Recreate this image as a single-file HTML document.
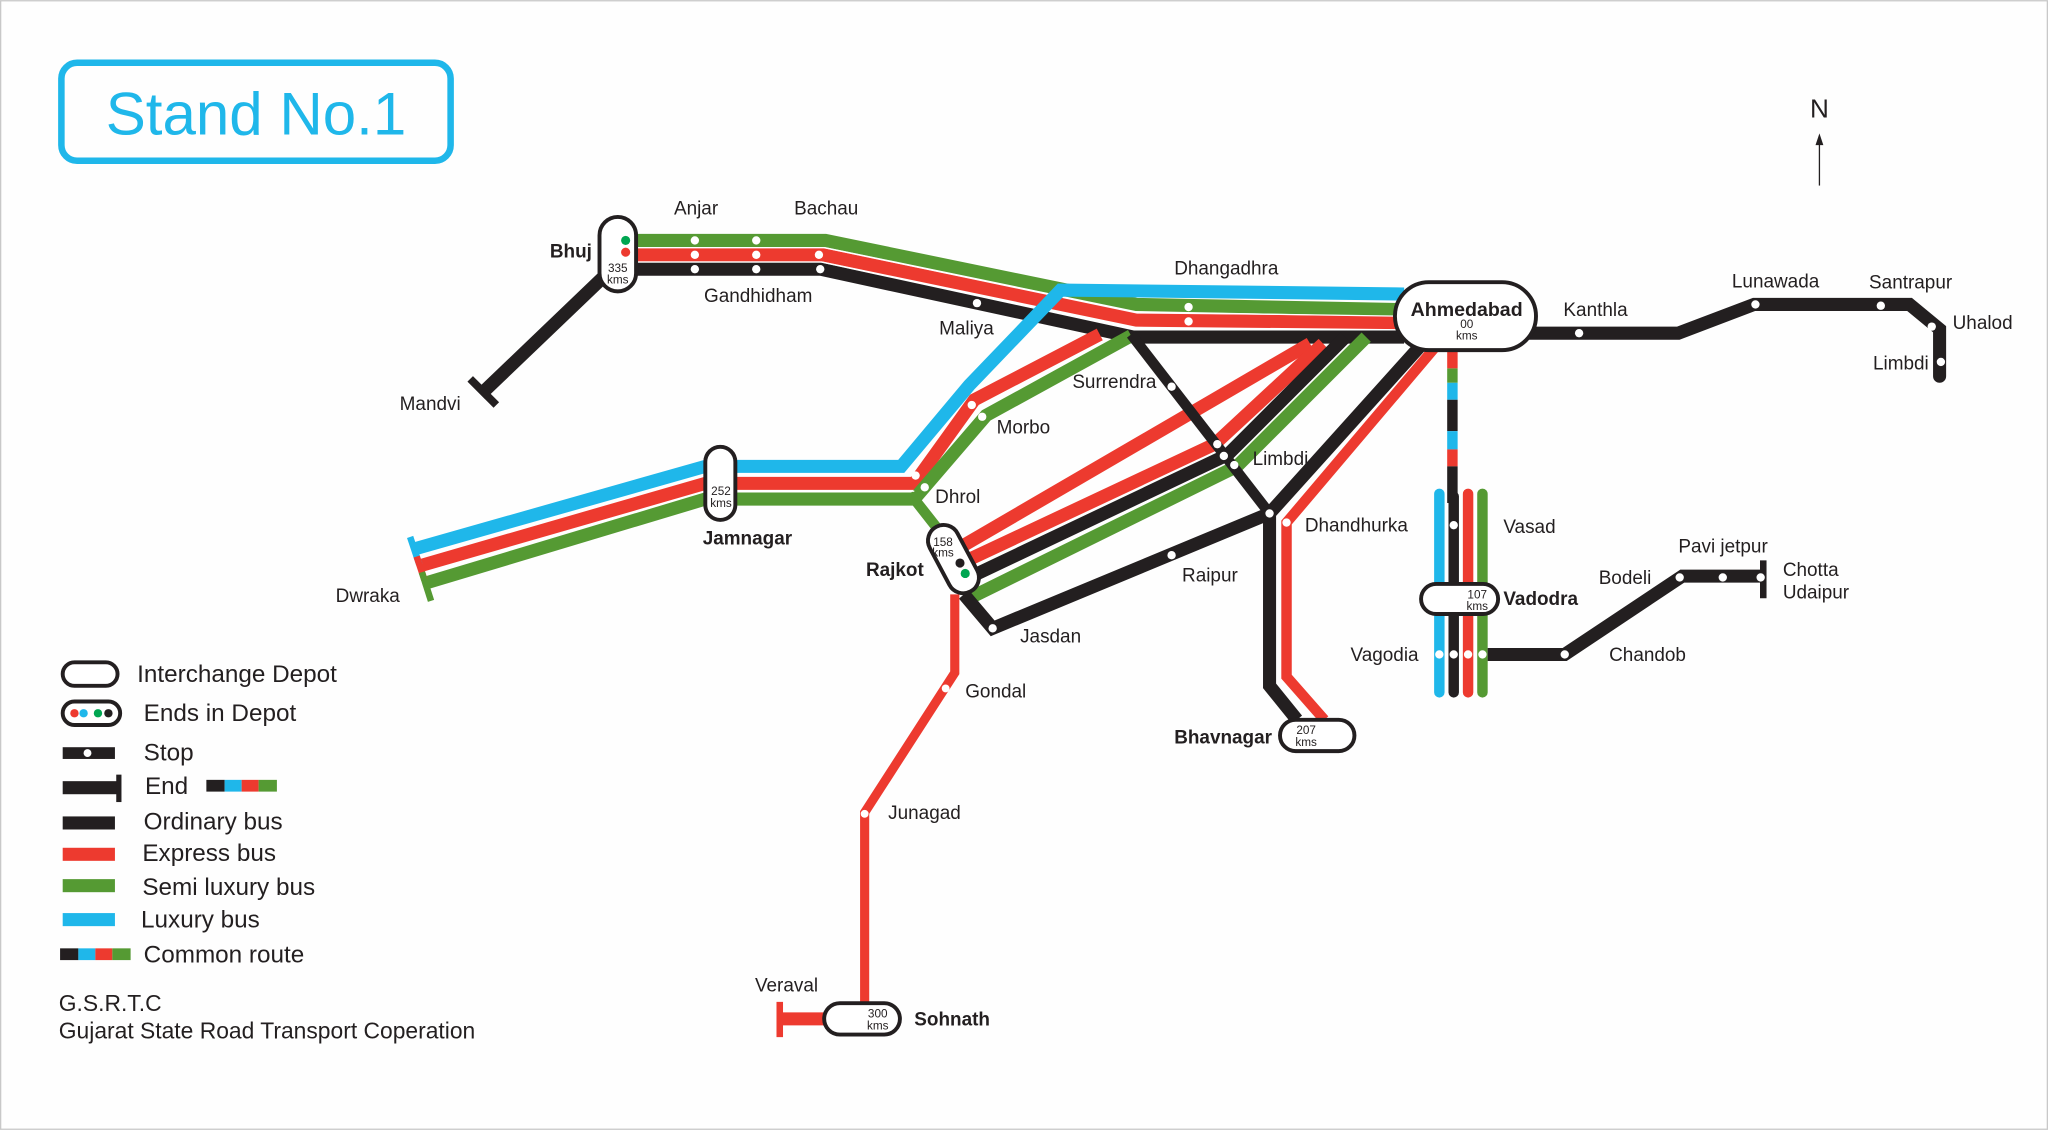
<!DOCTYPE html>
<html><head><meta charset="utf-8"><style>
html,body{margin:0;padding:0;background:#fff}
svg{display:block}
text{font-family:"Liberation Sans",sans-serif;fill:#231f20}
</style></head><body>
<svg width="2048" height="1130" viewBox="0 0 1568 865" xmlns="http://www.w3.org/2000/svg">
<rect x="0.5" y="0.5" width="1567" height="864" fill="#fefefe" stroke="#c8c8c8"/>
<rect x="47" y="48" width="298" height="75" rx="12" fill="none" stroke="#1fb7ea" stroke-width="5"/>
<text x="196" y="103" font-size="46" text-anchor="middle" style="fill:#1fb7ea">Stand No.1</text>
<text x="1393" y="90" font-size="20" text-anchor="middle">N</text>
<line x1="1393" y1="142" x2="1393" y2="108" stroke="#231f20" stroke-width="1"/>
<polygon points="1393,102 1390,111 1396,111" fill="#231f20"/>

<g fill="none" stroke-linejoin="miter" stroke-linecap="butt">
<g stroke="#231f20" stroke-width="10"><polyline points="462,212 368,302"/><line x1="360" y1="290" x2="380" y2="310" stroke-width="6"/></g>
<polyline points="485,184 632,184 870,233 1075,237" stroke="#559a33" stroke-width="10"/>
<polyline points="485,195 630,195 870,245 1075,247" stroke="#ed3a2f" stroke-width="10"/>
<polyline points="485,206 628,206 868,258 1075,258" stroke="#231f20" stroke-width="10"/>
<polyline points="485,189.5 631,189.5 870,239 1075,242" stroke="#fff" stroke-width="1"/>
<polyline points="485,200.5 629,200.5 869,251.5 1075,252.5" stroke="#fff" stroke-width="1"/>
<polyline points="563,357 690,357 742,295 812,222 1075,225" stroke="#1fb7ea" stroke-width="10"/>
<polyline points="540,357 318,420" stroke="#1fb7ea" stroke-width="10"/>
<polyline points="540,370 322,433" stroke="#ed3a2f" stroke-width="10"/>
<polyline points="540,382 327,446" stroke="#559a33" stroke-width="10"/>
<polyline points="540,376 324,439.5" stroke="#fff" stroke-width="1"/>
<line x1="314" y1="411" x2="321" y2="432" stroke="#1fb7ea" stroke-width="5"/>
<line x1="319" y1="426" x2="325" y2="444" stroke="#ed3a2f" stroke-width="5"/>
<line x1="323" y1="438" x2="330" y2="460" stroke="#559a33" stroke-width="5"/>
<polyline points="563,370 700,370 746,306 842,256" stroke="#ed3a2f" stroke-width="10"/>
<polyline points="563,382 700,382 755,318 866,257" stroke="#559a33" stroke-width="10"/>
<polyline points="563,376 700,376" stroke="#fff" stroke-width="1"/>
<polyline points="700,382 722,410" stroke="#559a33" stroke-width="8"/>
<polyline points="730,422 1003,263" stroke="#ed3a2f" stroke-width="10"/>
<polyline points="734,432 930,340 1013,263" stroke="#ed3a2f" stroke-width="10"/>
<polyline points="738,444 940,348 1030,258" stroke="#231f20" stroke-width="10"/>
<polyline points="744,457 947,357 1046,258" stroke="#559a33" stroke-width="10"/>
<polyline points="866,256 972,393" stroke="#231f20" stroke-width="8"/>
<polyline points="1090,262 972,393 972,525 993,551" stroke="#231f20" stroke-width="10"/>
<polyline points="1102,262 985,400 985,518 1014,551" stroke="#ed3a2f" stroke-width="8"/>
<polyline points="738,455 760,481 972,393" stroke="#231f20" stroke-width="10"/>
<polyline points="731,455 731,515 662,622 662,772" stroke="#ed3a2f" stroke-width="7"/>
<polyline points="632,780 598,780" stroke="#ed3a2f" stroke-width="10"/>
<line x1="597" y1="767" x2="597" y2="794" stroke="#ed3a2f" stroke-width="5"/>
<polyline points="1170,255 1285,255 1343,233 1462,233 1485,252 1485,288" stroke="#231f20" stroke-width="10" stroke-linecap="round"/>
<line x1="1112" y1="265" x2="1112" y2="282" stroke="#ed3a2f" stroke-width="8"/>
<line x1="1112" y1="282" x2="1112" y2="293" stroke="#559a33" stroke-width="8"/>
<line x1="1112" y1="293" x2="1112" y2="306" stroke="#1fb7ea" stroke-width="8"/>
<line x1="1112" y1="306" x2="1112" y2="330" stroke="#231f20" stroke-width="8"/>
<line x1="1112" y1="330" x2="1112" y2="344" stroke="#1fb7ea" stroke-width="8"/>
<line x1="1112" y1="344" x2="1112" y2="357" stroke="#ed3a2f" stroke-width="8"/>
<line x1="1112" y1="357" x2="1112" y2="385" stroke="#231f20" stroke-width="8"/>
<g stroke-linecap="round" stroke-width="8">
<line x1="1102" y1="378" x2="1102" y2="530" stroke="#1fb7ea"/>
<line x1="1113" y1="380" x2="1113" y2="530" stroke="#231f20"/>
<line x1="1124" y1="378" x2="1124" y2="530" stroke="#ed3a2f"/>
<line x1="1135" y1="378" x2="1135" y2="530" stroke="#559a33"/>
</g>
<polyline points="1139,501 1198,501 1288,441 1350,441" stroke="#231f20" stroke-width="10"/>
<line x1="1350" y1="429" x2="1350" y2="458" stroke="#231f20" stroke-width="5"/>
</g>

<g fill="#fff">
<circle cx="532" cy="184" r="3.2"/><circle cx="579" cy="184" r="3.2"/>
<circle cx="532" cy="195" r="3.2"/><circle cx="579" cy="195" r="3.2"/><circle cx="627" cy="195" r="3.2"/>
<circle cx="532" cy="206" r="3.2"/><circle cx="579" cy="206" r="3.2"/><circle cx="628" cy="206" r="3.2"/>
<circle cx="748" cy="232" r="3.2"/>
<circle cx="910" cy="235" r="3.2"/><circle cx="910" cy="246" r="3.2"/>
<circle cx="897" cy="296" r="3.2"/>
<circle cx="744" cy="310" r="3.2"/><circle cx="752" cy="319" r="3.2"/>
<circle cx="701" cy="364" r="3.2"/><circle cx="708" cy="373" r="3.2"/>
<circle cx="932" cy="340" r="3.2"/><circle cx="937" cy="349" r="3.2"/><circle cx="945" cy="356" r="3.2"/>
<circle cx="972" cy="393" r="3.2"/><circle cx="985" cy="400" r="3.2"/>
<circle cx="897" cy="425" r="3.2"/><circle cx="760" cy="481" r="3.2"/>
<circle cx="724" cy="527" r="3"/><circle cx="662" cy="623" r="3"/>
<circle cx="1209" cy="255" r="3.2"/><circle cx="1344" cy="233" r="3.2"/><circle cx="1440" cy="234" r="3.2"/><circle cx="1479" cy="250" r="3.2"/><circle cx="1486" cy="277" r="3.2"/>
<circle cx="1113" cy="402" r="3.2"/>
<circle cx="1102" cy="501" r="3.2"/><circle cx="1113" cy="501" r="3.2"/><circle cx="1124" cy="501" r="3.2"/><circle cx="1135" cy="501" r="3.2"/>
<circle cx="1198" cy="501" r="3.2"/><circle cx="1286" cy="442" r="3.2"/><circle cx="1319" cy="442" r="3.2"/><circle cx="1348" cy="442" r="3.2"/>
</g>

<g fill="#fff" stroke="#231f20" stroke-width="3">
<rect x="459" y="166" width="28" height="57" rx="14"/>
<rect x="540" y="342" width="23" height="56" rx="11.5"/>
<rect x="718" y="400" width="24" height="56" rx="12" transform="rotate(-28 730 428)"/>
<rect x="1068" y="216" width="108" height="52" rx="26"/>
<rect x="1088" y="447" width="59" height="23" rx="11.5"/>
<rect x="980" y="551" width="57" height="24" rx="12"/>
<rect x="631" y="768" width="58" height="24" rx="12"/>
</g>
<circle cx="479" cy="184" r="3.5" fill="#00a651"/><circle cx="479" cy="193" r="3.5" fill="#ed3a2f"/>
<circle cx="735" cy="431" r="3.5" fill="#231f20"/><circle cx="739" cy="439" r="3.5" fill="#00a651"/>

<g font-size="9" text-anchor="middle">
<text x="473" y="208">335</text><text x="473" y="217">kms</text>
<text x="552" y="379">252</text><text x="552" y="388">kms</text>
<text x="722" y="418">158</text><text x="722" y="426">kms</text>
<text x="1123" y="251">00</text><text x="1123" y="260">kms</text>
<text x="1131" y="458">107</text><text x="1131" y="467">kms</text>
<text x="1000" y="562">207</text><text x="1000" y="571">kms</text>
<text x="672" y="779">300</text><text x="672" y="788">kms</text>
</g>

<g font-size="14.5">
<text x="516" y="164">Anjar</text><text x="608" y="164">Bachau</text>
<text x="539" y="231">Gandhidham</text><text x="719" y="256">Maliya</text>
<text x="899" y="210">Dhangadhra</text>
<text x="306" y="314">Mandvi</text>
<text x="821" y="297">Surrendra</text><text x="763" y="332">Morbo</text>
<text x="716" y="385">Dhrol</text><text x="959" y="356">Limbdi</text>
<text x="999" y="407">Dhandhurka</text><text x="905" y="445">Raipur</text>
<text x="781" y="492">Jasdan</text><text x="257" y="461">Dwraka</text>
<text x="739" y="534">Gondal</text><text x="680" y="627">Junagad</text>
<text x="578" y="759">Veraval</text>
<text x="1197" y="242">Kanthla</text><text x="1326" y="220">Lunawada</text><text x="1431" y="221">Santrapur</text>
<text x="1495" y="252">Uhalod</text><text x="1434" y="283">Limbdi</text>
<text x="1151" y="408">Vasad</text><text x="1224" y="447">Bodeli</text><text x="1285" y="423">Pavi jetpur</text>
<text x="1365" y="441">Chotta</text><text x="1365" y="458">Udaipur</text>
<text x="1034" y="506">Vagodia</text><text x="1232" y="506">Chandob</text>
</g>
<g font-size="14.5" font-weight="bold">
<text x="421" y="197">Bhuj</text><text x="538" y="417">Jamnagar</text>
<text x="663" y="441">Rajkot</text><text x="1151" y="463">Vadodra</text>
<text x="899" y="569">Bhavnagar</text><text x="700" y="785">Sohnath</text>
<text x="1080" y="242" font-size="15">Ahmedabad</text>
</g>

<rect x="48" y="507" width="42" height="18" rx="9" fill="#fff" stroke="#231f20" stroke-width="3"/>
<rect x="48" y="537" width="44" height="18" rx="9" fill="#fff" stroke="#231f20" stroke-width="3"/>
<circle cx="57" cy="546" r="3.2" fill="#ed3a2f"/><circle cx="64" cy="546" r="3.2" fill="#1fb7ea"/><circle cx="75" cy="546" r="3.2" fill="#00a651"/><circle cx="83" cy="546" r="3.2" fill="#231f20"/>
<rect x="48" y="572" width="40" height="9" fill="#231f20"/><circle cx="67" cy="576.5" r="3" fill="#fff"/>
<rect x="48" y="598" width="42" height="10" fill="#231f20"/><rect x="89" y="593" width="4" height="21" fill="#231f20"/>
<rect x="158" y="597" width="14" height="9" fill="#231f20"/><rect x="172" y="597" width="13" height="9" fill="#1fb7ea"/><rect x="185" y="597" width="13" height="9" fill="#ed3a2f"/><rect x="198" y="597" width="14" height="9" fill="#559a33"/>
<rect x="48" y="625" width="40" height="10" fill="#231f20"/>
<rect x="48" y="649" width="40" height="10" fill="#ed3a2f"/>
<rect x="48" y="673" width="40" height="10" fill="#559a33"/>
<rect x="48" y="699" width="40" height="10" fill="#1fb7ea"/>
<rect x="46" y="726" width="14" height="9" fill="#231f20"/><rect x="60" y="726" width="13" height="9" fill="#1fb7ea"/><rect x="73" y="726" width="13" height="9" fill="#ed3a2f"/><rect x="86" y="726" width="14" height="9" fill="#559a33"/>
<g font-size="18.6">
<text x="105" y="522">Interchange Depot</text>
<text x="110" y="552">Ends in Depot</text>
<text x="110" y="582">Stop</text>
<text x="111" y="608">End</text>
<text x="110" y="635">Ordinary bus</text>
<text x="109" y="659">Express bus</text>
<text x="109" y="685">Semi luxury bus</text>
<text x="108" y="710">Luxury bus</text>
<text x="110" y="737">Common route</text>
<text x="45" y="774" font-size="17.5">G.S.R.T.C</text>
<text x="45" y="795" font-size="17.5">Gujarat State Road Transport Coperation</text>
</g>
</svg>
</body></html>
